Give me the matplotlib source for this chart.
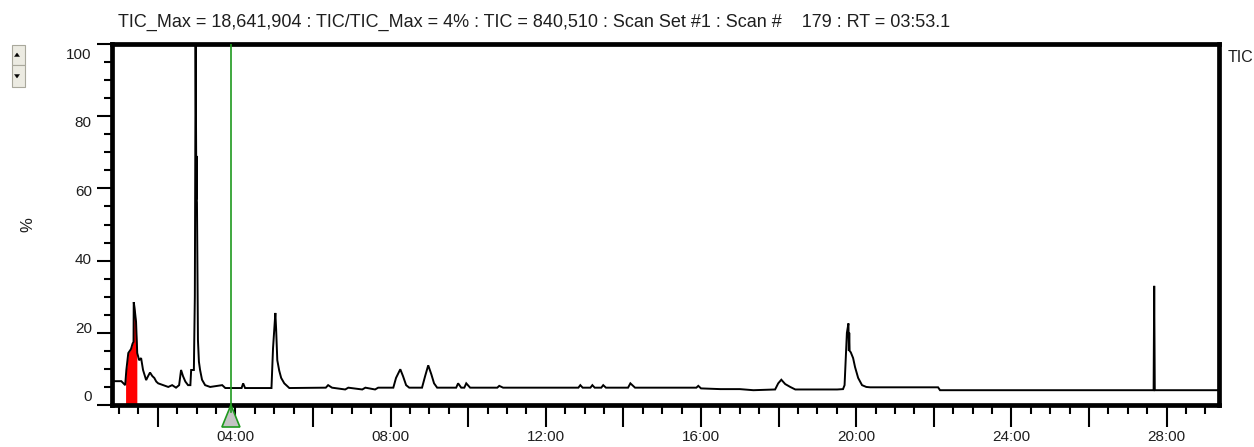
import matplotlib
matplotlib.use("Agg")
import matplotlib.pyplot as plt
from matplotlib.patches import Polygon, Rectangle
from matplotlib.ticker import FixedLocator, MultipleLocator, FuncFormatter
from matplotlib.transforms import ScaledTranslation, blended_transform_factory
import numpy as np

# Total ion chromatogram: retention time (min) vs. relative intensity (%)
rt_min = [
    0.85, 1.06, 1.16, 1.19, 1.24, 1.31, 1.35, 1.375, 1.38, 1.40, 1.44, 1.47, 1.52,
    1.57, 1.62, 1.70, 1.75, 1.80, 1.86, 1.91, 1.96, 2.01, 2.14, 2.27, 2.37, 2.47,
    2.55, 2.60, 2.65, 2.71, 2.78, 2.84, 2.86, 2.93, 2.955, 2.975, 2.990, 2.995,
    3.000, 3.005, 3.010, 3.035, 3.06, 3.09, 3.14, 3.22, 3.35, 3.48, 3.66, 3.74,
    4.16, 4.20, 4.25,
    4.93, 4.95, 4.97, 5.03, 5.05, 5.08, 5.13, 5.18, 5.26, 5.39,
    6.33, 6.39, 6.49, 6.83, 6.91, 7.27, 7.35, 7.60, 7.68,
    8.07, 8.14, 8.25, 8.32, 8.40, 8.48, 8.81, 8.89, 8.97, 9.05, 9.12, 9.20,
    9.69, 9.74, 9.82, 9.90, 9.95, 10.05, 10.75, 10.80, 10.90,
    12.84, 12.89, 12.95, 13.15, 13.20, 13.26, 13.43, 13.48, 13.55,
    14.12, 14.18, 14.30, 15.88, 15.93, 16.00, 16.50, 17.00, 17.35,
    17.91, 17.99, 18.07, 18.17, 18.30, 18.43, 19.51, 19.66, 19.70, 19.76, 19.80,
    19.81, 19.82, 19.83, 19.86, 19.92, 19.97, 20.05, 20.15, 20.26, 20.36,
    22.11, 22.16, 27.665, 27.68, 27.695, 29.33,
]
tic_pct = [
    6.6, 6.6, 5.5, 9.7, 14.4, 15.5, 17.0, 17.5, 28.5, 27.0, 23.0, 14.4, 12.4,
    13.0, 9.7, 6.9, 8.0, 9.0, 8.0, 7.5, 6.5, 6.0, 5.5, 5.0, 5.5, 4.8,
    5.5, 9.7, 8.0, 6.5, 5.5, 5.5, 9.7, 9.7, 30.0, 100.0, 70.0, 57.0,
    69.0, 57.0, 56.0, 18.0, 12.0, 9.7, 7.0, 5.5, 5.0, 5.2, 5.5, 4.7,
    4.7, 6.0, 4.7,
    4.7, 10.0, 15.7, 25.5, 21.0, 12.4, 9.5, 7.5, 6.0, 4.7,
    4.8, 5.5, 4.8, 4.3, 4.8, 4.3, 4.8, 4.3, 4.8,
    4.8, 7.5, 9.9, 8.0, 5.5, 4.8, 4.8, 8.0, 11.0, 8.5, 6.0, 4.8,
    4.8, 6.0, 4.8, 4.8, 6.0, 4.8, 4.8, 5.3, 4.8,
    4.8, 5.5, 4.8, 4.8, 5.5, 4.8, 4.8, 5.5, 4.8,
    4.8, 6.0, 4.8, 4.8, 5.3, 4.6, 4.4, 4.4, 4.1,
    4.3, 6.0, 7.0, 5.8, 5.0, 4.3, 4.3, 4.4, 5.5, 20.0, 22.6,
    15.0, 20.0, 15.0, 14.6, 13.0, 10.5, 7.5, 5.5, 5.0, 4.9,
    4.9, 4.1, 4.1, 33.0, 4.1, 4.1,
]

# Integrated window shaded under the first peak
fill_start, fill_end = 1.17, 1.46
cursor_rt = 3.885  # 03:53.1

title_text = ("TIC_Max = 18,641,904 : TIC/TIC_Max = 4% : TIC = 840,510 : "
              "Scan Set #1 : Scan #    179 : RT = 03:53.1")
y_ticks = [0, 20, 40, 60, 80, 100]
x_major = [2, 4, 6, 8, 10, 12, 14, 16, 18, 20, 22, 24, 26, 28]

FONT = "Liberation Sans"
TXT = "#1e1e1e"
W, H = 1254, 447

fig = plt.figure(figsize=(W / 100, H / 100), dpi=100)
ax = fig.add_axes([112 / W, 1 - 405 / H, (1219 - 112) / W, (405 - 44) / H])

rt = np.array(rt_min)
tic = np.array(tic_pct)

ax.plot(rt, tic, color="black", lw=1.4, solid_joinstyle="miter", zorder=3)

# red integration area
fx = np.linspace(fill_start, fill_end, 80)
fy = np.interp(fx, rt, tic)
ax.fill_between(fx, 0, fy, color="#ff0000", lw=0, zorder=2)

ax.set_xlim(0.82, 29.35)
ax.set_ylim(0, 100)

for s in ax.spines.values():
    s.set_linewidth(3.4)
    s.set_color("black")
    s.set_capstyle("projecting")

# axis ticks
ax.yaxis.set_major_locator(FixedLocator(y_ticks))
ax.yaxis.set_minor_locator(MultipleLocator(5))
ax.xaxis.set_major_locator(FixedLocator(x_major))
ax.xaxis.set_minor_locator(MultipleLocator(0.5))
ax.xaxis.set_major_formatter(FuncFormatter(
    lambda v, p: f"{int(v):02d}:00" if int(round(v)) % 4 == 0 else ""))
ax.tick_params(axis="y", which="major", direction="out", length=11, width=1.5,
               pad=3.5, labelsize=11, labelcolor=TXT)
ax.tick_params(axis="y", which="minor", direction="out", length=5.5, width=1.5)
ax.tick_params(axis="x", which="major", direction="out", length=15.5, width=1.5,
               pad=2.5, labelsize=11, labelcolor=TXT)
ax.tick_params(axis="x", which="minor", direction="out", length=6.5, width=1.5)
for lab in ax.get_xticklabels() + ax.get_yticklabels():
    lab.set_fontfamily(FONT)

# y labels sit slightly spread apart from their ticks
for v, lab in zip(y_ticks, ax.get_yticklabels()):
    dy = -(v - 50) * 0.19 / 100
    lab.set_transform(lab.get_transform() + ScaledTranslation(0, dy, fig.dpi_scale_trans))

# retention-time cursor with marker
ax.axvline(cursor_rt, color="#1f9a1f", lw=1.2, zorder=4)
tr = blended_transform_factory(ax.transData, ax.transAxes)
hw = 9 / 38.8
tri = Polygon([[cursor_rt, 0.0], [cursor_rt - hw, -22 / 361], [cursor_rt + hw, -22 / 361]],
              closed=True, transform=tr, facecolor="#c4c4c4", edgecolor="#1f9a1f",
              lw=1.2, clip_on=False, zorder=6)
ax.add_patch(tri)
ax.plot([cursor_rt, cursor_rt], [0, -0.02], transform=tr, color="#1f9a1f",
        lw=1.2, clip_on=False, zorder=7)

# header, trace name, y-axis unit
fig.text(118 / W, 1 - 22 / H, title_text, ha="left", va="center",
         fontsize=12.95, family=FONT, color=TXT)
fig.text(1228 / W, 1 - 57 / H, "TIC", ha="left", va="center",
         fontsize=11.5, family=FONT, color=TXT)
fig.text(28 / W, 1 - 225 / H, "%", ha="center", va="center", rotation=90,
         fontsize=12, family=FONT, color=TXT)

# small scroll buttons at the left edge
for (y0, y1, up) in [(45, 65, True), (65, 87, False)]:
    fig.patches.append(Rectangle((12 / W, 1 - y1 / H), 13 / W, (y1 - y0) / H,
                                 transform=fig.transFigure, facecolor="#ecebe2",
                                 edgecolor="#a9a89c", lw=0.8))
    cx, cy = 17 / W, 1 - (y0 + y1) / 2 / H
    s = 2.5
    if up:
        pts = [[cx - s / W, cy - 1.5 / H], [cx + s / W, cy - 1.5 / H], [cx, cy + 2 / H]]
    else:
        pts = [[cx - s / W, cy + 1.5 / H], [cx + s / W, cy + 1.5 / H], [cx, cy - 2 / H]]
    fig.patches.append(Polygon(pts, closed=True, transform=fig.transFigure,
                               facecolor="black", edgecolor="black", lw=0.3))

fig.savefig("out.png", dpi=100)
